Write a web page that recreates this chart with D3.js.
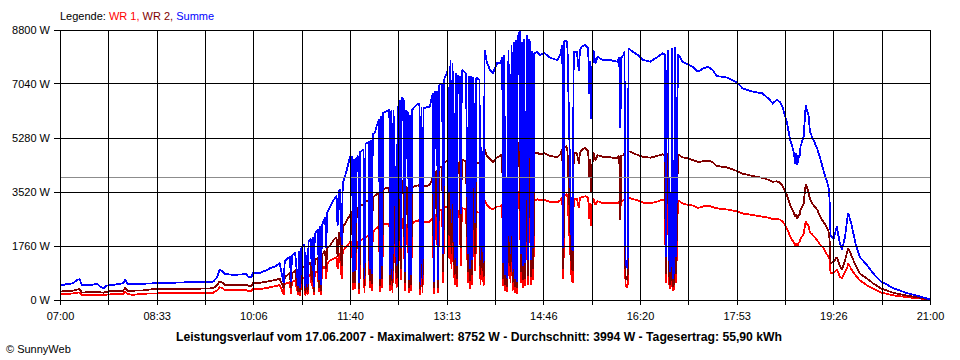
<!DOCTYPE html>
<html><head><meta charset="utf-8">
<script src="https://cdn.jsdelivr.net/npm/d3@7"></script>
<style>
body{margin:0;background:#fff;}
svg{display:block;font-family:"Liberation Sans",Arial,sans-serif;}
</style></head><body>
<svg id="c" width="960" height="360"></svg>
<script>
// ---- data ----
const times = [
"07:00","07:07","07:12","07:17","07:19","07:21","07:27","07:36","07:39","07:42",
"07:45","07:51","08:01","08:03","08:05","08:10","08:20","08:27","08:34","08:49",
"09:08","09:28","09:32","09:34","09:36","09:39","09:47","10:00","10:02","10:05",
"10:06","10:13","10:20","10:23","10:28","10:32",
"10:36","10:37","10:42","10:43","10:44","10:47","10:50","10:51","10:52","10:53",
"10:56","10:57","10:58","10:59","11:00","11:02","11:03","11:04","11:05","11:06",
"11:09","11:10","11:11","11:12","11:13","11:16","11:17","11:18","11:21","11:24",
"11:27","11:28","11:29","11:30","11:32","11:33","11:35","11:37",
"11:40","11:42","11:43","11:44","11:45","11:46","11:48","11:49","11:50","11:53",
"11:54","11:55","11:58","11:59","12:00","12:01","12:02","12:04","12:06","12:08",
"12:09","12:10","12:11","12:12","12:15","12:18","12:19","12:20","12:21","12:22",
"12:25","12:26","12:28","12:29","12:30","12:32","12:33","12:34","12:36","12:37",
"12:38","12:39","12:40","12:44","12:47","12:48","12:49","12:50","12:51","12:54",
"12:57","13:00","13:01","13:02","13:04","13:05","13:06","13:09","13:10","13:11",
"13:14",
"13:16","13:17","13:18","13:19","13:21","13:22","13:23","13:24","13:26","13:27",
"13:28","13:30","13:32","13:34","13:35","13:36","13:37","13:38","13:39","13:41",
"13:42","13:44","13:45","13:46","13:47","13:49","13:50","13:52","13:55","13:58",
"14:02","14:05","14:07","14:08","14:09","14:10","14:11","14:12","14:13","14:15",
"14:16","14:17","14:18","14:19","14:20","14:21","14:22","14:24","14:25","14:26",
"14:27","14:28","14:29","14:31","14:32","14:33","14:34","14:35","14:36","14:37",
"14:38","14:41","14:43",
"14:48","14:53","15:00","15:03","15:05","15:06","15:07","15:09","15:10","15:14",
"15:15","15:16","15:19","15:21","15:22","15:24","15:27","15:30","15:31","15:32",
"15:33","15:34","15:35","15:37","15:39","15:44","15:51","15:58","16:00","16:01",
"16:02","16:04","16:05","16:06","16:07","16:08","16:09","16:13","16:18","16:23",
"16:30","16:36","16:42","16:44","16:45","16:46","16:47","16:48","16:49","16:50",
"16:51","16:52","16:53","16:54","16:55","16:56","16:57","17:01","17:06","17:11",
"17:16","17:21","17:26","17:30","17:34","17:44","17:54","17:59","18:09","18:18",
"18:24","18:28","18:32","18:35","18:38","18:42","18:45","18:48","18:50","18:51",
"18:52","18:53","18:54","18:55","18:58","19:00","19:01","19:03","19:04","19:06",
"19:11","19:14","19:17","19:20","19:22","19:23","19:24","19:27","19:30","19:31",
"19:33","19:35","19:38","19:40","19:41","19:43","19:44","19:48","19:52","19:59",
"20:05","20:13","20:25","20:38","20:50","21:00"
];
const summe = [
470,520,540,660,680,490,480,520,435,380,
470,490,545,670,520,530,530,540,545,565,
580,600,760,990,960,850,820,840,740,745,
870,880,980,1040,1100,1200,
560,1260,1420,600,1450,1550,450,1600,400,1680,
1800,380,1450,420,1900,2000,1100,2050,420,2150,
2300,650,2400,500,2450,2700,1700,2850,3050,3250,
3400,2400,3500,3600,1800,3800,4000,4250,
4660,4670,900,4600,950,4600,4700,550,4830,4900,
700,5100,5150,1000,5200,850,5400,5450,5700,5900,
700,6000,1100,6100,6150,6190,800,6190,700,6190,
1100,6200,6520,1700,6600,6500,900,6190,6100,650,
6030,800,6200,6350,6410,500,6300,700,6250,6280,
6300,6735,600,6780,6790,650,7000,7060,1500,7200,
7440,
3500,7820,2500,7715,1300,7390,1100,7300,7280,2800,
7500,7450,7390,1500,7300,1000,7300,1300,7280,2500,
7250,7200,7170,1300,5000,1200,8150,7770,7500,7390,
7715,7715,7900,1200,7985,800,4000,700,8150,1500,
8310,900,8400,700,8475,600,8580,8750,1500,8400,
1100,8500,1200,8640,1300,8500,8365,1300,8100,1700,
8040,8090,7985,
8040,7900,7820,7985,8300,1700,8420,8475,8200,1750,
1600,8100,8090,7450,8150,8260,8310,8200,6700,7800,
5900,7600,8150,7700,7930,7820,7820,7770,7900,5600,
7900,7985,8100,1100,1300,1000,8200,8090,7985,7820,
7770,7900,8040,8000,1400,6900,8150,1500,900,1200,
8200,700,1000,8260,1400,6400,8000,7770,7690,7600,
7440,7550,7600,7500,7300,7250,7080,6900,6790,6735,
6570,6410,6520,6460,6250,5760,5215,4890,4450,4800,
4400,4700,4650,5000,5325,6355,6200,5975,5500,5325,
4945,4620,4240,3910,3690,3300,2100,2000,2390,2200,
1850,1630,2065,2600,2845,2600,2500,1850,1410,1140,
870,600,380,220,120,20
];
const wr2 = [
275,290,300,345,350,245,250,255,250,240,
265,300,305,400,305,305,310,345,350,355,
365,380,500,600,590,500,490,495,455,460,
545,560,600,620,650,700,
380,740,880,400,880,950,270,1000,250,1040,
1100,240,900,260,1150,1220,650,1250,260,1300,
1380,400,1450,300,1480,1600,1000,1680,1790,1950,
2050,1400,2120,2220,1100,2350,2480,2600,
2770,2900,550,2950,560,2950,3000,350,3100,3100,
450,3200,3250,620,3250,520,3350,3400,3450,3500,
450,3550,700,3600,3650,3650,500,3670,450,3670,
680,3700,3850,1000,3900,3850,560,3700,3650,400,
3650,480,3680,3720,3750,330,3720,430,3700,3720,
3750,4000,380,4100,4240,400,4300,4350,900,4450,
4560,
2100,4650,1500,4620,800,4450,680,4450,4500,1700,
4560,4550,4500,900,4480,620,4500,800,4560,1500,
4500,4450,4450,800,3000,750,4900,4700,4600,4500,
4650,4700,4750,700,4800,480,2400,420,4850,900,
4900,550,4950,420,5000,380,5050,5150,900,5000,
650,5050,700,5100,780,5000,4950,750,4800,1000,
4800,4800,4750,
4780,4700,4650,4750,4900,1000,4950,5000,4850,1050,
950,4800,4780,4450,4800,4900,4950,4850,4000,4600,
3500,4400,4820,4550,4720,4670,4650,4620,4700,2600,
4700,4720,4800,650,780,620,4850,4800,4720,4660,
4640,4690,4750,4700,850,4100,4800,900,500,700,
4850,420,600,4850,850,3800,4750,4650,4620,4560,
4500,4520,4540,4500,4370,4320,4200,4120,4040,3980,
3920,3850,3870,3830,3700,3400,3095,2880,2700,2800,
2650,2780,2750,2950,3150,3780,3700,3475,3300,3150,
2950,2715,2550,2400,2250,2000,1200,1250,1400,1300,
1100,980,1300,1550,1685,1550,1450,1150,870,700,
545,370,230,140,75,12
];
const wr1 = [
190,200,210,240,245,170,175,175,165,150,
175,190,200,270,195,170,200,215,215,220,
228,240,320,410,400,330,325,320,290,295,
350,360,390,420,450,490,
180,520,580,200,590,640,170,650,140,680,
720,130,600,150,780,820,450,830,150,880,
950,250,1000,180,1020,1100,700,1180,1300,1350,
1400,1000,1450,1530,700,1600,1680,1750,
1890,1900,330,1880,350,1900,1900,180,1950,2000,
240,2050,2100,380,2100,300,2200,2300,2350,2400,
250,2400,400,2450,2480,2500,280,2500,220,2500,
400,2500,2600,650,2650,2600,300,2450,2420,220,
2400,280,2500,2580,2600,150,2580,240,2550,2550,
2550,2700,200,2750,2825,230,2900,2950,550,3000,
3050,
1350,3150,1000,3100,480,2950,420,2900,2900,1100,
3000,2980,2950,550,2920,350,2900,480,2900,950,
2880,2850,2850,500,2000,450,3250,3100,3000,2950,
3050,3050,3100,450,3150,280,1600,250,3250,550,
3350,300,3400,230,3450,200,3500,3550,550,3400,
400,3450,450,3500,500,3450,3400,480,3270,650,
3250,3280,3250,
3260,3200,3180,3250,3350,700,3400,3450,3350,650,
560,3280,3300,3000,3330,3350,3380,3330,2650,3150,
2400,3100,3320,3100,3220,3160,3160,3150,3200,3000,
3200,3250,3280,430,500,380,3330,3290,3250,3170,
3150,3200,3270,3250,550,2800,3330,550,380,450,
3350,300,400,3400,550,2600,3250,3150,3100,3080,
3000,3050,3080,3030,2990,2950,2890,2820,2770,2720,
2680,2640,2640,2620,2550,2330,2065,1900,1750,1850,
1760,1850,1900,2000,2150,2550,2500,2400,2200,2150,
1950,1800,1700,1500,1420,1350,870,900,980,920,
760,705,900,1050,1195,1080,1000,815,650,480,
380,240,150,90,50,8
];
const yTickValues = [0, 1760, 3520, 5280, 7040, 8800];
const xTickLabels = ["07:00","08:33","10:06","11:40","13:13","14:46","16:20","17:53","19:26","21:00"];
const averageW = 3994;
const legendParts = [
  {text: "Legende: ", color: "#000000"},
  {text: "WR 1, ", color: "#ff0000"},
  {text: "WR 2, ", color: "#800000"},
  {text: "Summe", color: "#0000ff"}
];
const titleText = "Leistungsverlauf vom 17.06.2007 - Maximalwert: 8752 W - Durchschnitt: 3994 W - Tagesertrag: 55,90 kWh";
const copyrightText = "\u00A9 SunnyWeb";

// ---- drawing ----
const parse = d3.timeParse("%H:%M");
const svg = d3.select("#c");
const t0 = parse("07:00"), t1 = parse("21:00");
const x = d3.scaleTime().domain([t0, t1]).range([60, 930]);
const y = d3.scaleLinear().domain([0, 8800]).range([300, 30]);
const px = v => Math.round(v) + 0.5;
const py = v => Math.floor(v) + 0.5;

svg.append("rect").attr("width", 960).attr("height", 360).attr("fill", "#fff");

// draw order: WR 1, WR 2, then Summe on top
const series = [
  {vals: wr1, color: "#ff0000"},
  {vals: wr2, color: "#800000"},
  {vals: summe, color: "#0000ff"}
];
const line = d3.line().x(d => x(d.t)).y(d => y(d.v));
const tParsed = times.map(parse);
series.forEach(s => {
  const pts = tParsed.map((t, i) => ({t, v: s.vals[i]}));
  svg.append("path").attr("d", line(pts)).attr("fill", "none")
    .attr("stroke", s.color).attr("stroke-width", 1.8)
    .attr("stroke-linejoin", "miter").attr("stroke-miterlimit", 2)
    .attr("shape-rendering", "crispEdges");
});

// average line
svg.append("line").attr("x1", 60).attr("x2", 930)
  .attr("y1", py(y(averageW))).attr("y2", py(y(averageW)))
  .attr("stroke", "#8c8c8c").attr("stroke-width", 1).attr("shape-rendering", "crispEdges");

// grid
const nInt = 18;
const gridTimes = d3.range(nInt + 1).map(i => new Date(+t0 + i * (t1 - t0) / nInt));
const g = svg.append("g").attr("shape-rendering", "crispEdges");
gridTimes.forEach(t => {
  g.append("line").attr("x1", px(x(t))).attr("x2", px(x(t)))
    .attr("y1", 30).attr("y2", 305).attr("stroke", "#000");
});
yTickValues.forEach(v => {
  g.append("line").attr("x1", 54).attr("x2", 930.5)
    .attr("y1", py(y(v))).attr("y2", py(y(v))).attr("stroke", "#000");
});

// axis labels
const xAxis = d3.axisBottom(x).tickValues(gridTimes.filter((d, i) => i % 2 === 0))
  .tickFormat((d, i) => xTickLabels[i]).tickSize(0).tickPadding(0);
const xa = svg.append("g").attr("transform", "translate(0,312)").call(xAxis);
xa.select(".domain").remove();
xa.selectAll("text").attr("font-size", 11).attr("font-family", "Liberation Sans, Arial, sans-serif")
  .attr("fill", "#000").attr("dy", "0.71em");

const yAxis = d3.axisLeft(y).tickValues(yTickValues).tickFormat(d => d + " W").tickSize(0).tickPadding(0);
const ya = svg.append("g").attr("transform", "translate(50,0)").call(yAxis);
ya.select(".domain").remove();
ya.selectAll("text").attr("font-size", 11).attr("font-family", "Liberation Sans, Arial, sans-serif")
  .attr("fill", "#000");

// legend
const lg = svg.append("text").attr("x", 60).attr("y", 20).attr("font-size", 11);
legendParts.forEach(p => lg.append("tspan").attr("fill", p.color).text(p.text));

// title
svg.append("text").attr("x", 176).attr("y", 341).attr("font-size", 12).attr("font-weight", "bold")
  .attr("textLength", 606).attr("lengthAdjust", "spacingAndGlyphs").text(titleText);

svg.append("text").attr("x", 6).attr("y", 353).attr("font-size", 11).text(copyrightText);
</script>
</body></html>
